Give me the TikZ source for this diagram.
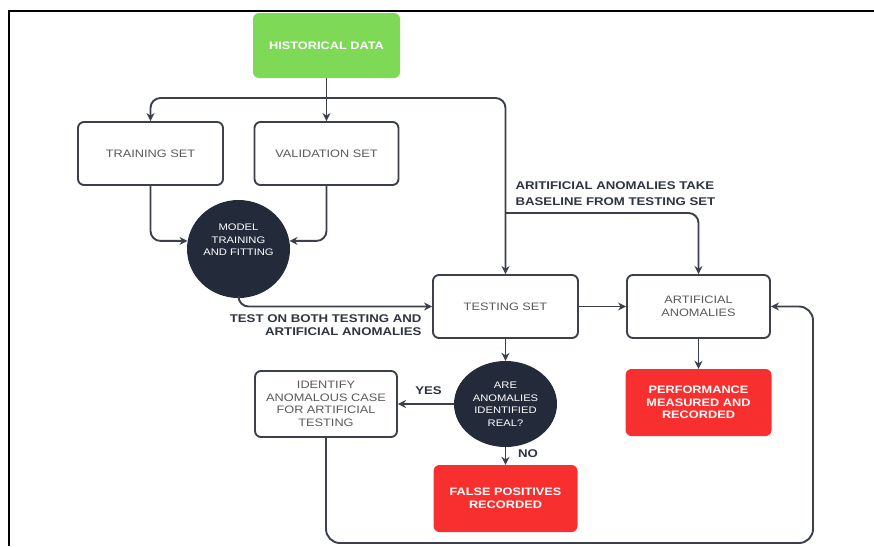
\documentclass[tikz,border=0pt]{standalone}
\usepackage{fontspec}
\setmainfont{Liberation Sans}[FakeStretch=1.18]
\usetikzlibrary{shapes.geometric,arrows.meta}
\definecolor{hgreen}{HTML}{7ED957}
\definecolor{hred}{HTML}{F7302F}
\definecolor{navy}{HTML}{232B3B}
\definecolor{lncol}{HTML}{3B404C}
\definecolor{boxtxt}{HTML}{5A5A5A}
\definecolor{lbltxt}{HTML}{2E3440}
\tikzset{
  box/.style={draw=lncol, line width=1.9pt, rounded corners=6pt, fill=white, text=boxtxt,
    align=center, font=\fontsize{10.8}{12.5}\selectfont, inner sep=2pt},
  greenbox/.style={fill=hgreen, rounded corners=6pt, text=white, align=center,
    font=\fontsize{10.8}{12.5}\selectfont\bfseries},
  redbox/.style={fill=hred, rounded corners=6pt, text=white, align=center,
    font=\fontsize{10.8}{12.5}\selectfont\bfseries},
  circ/.style={ellipse, fill=navy, text=white, align=center, inner sep=0pt,
    font=\fontsize{9.5}{12.5}\selectfont},
  arr/.style={draw=lncol, line width=1.9pt, -{Stealth[length=8pt,width=8pt]}},
  lbl/.style={text=lbltxt, font=\fontsize{11.2}{15.5}\selectfont\bfseries},
}
\begin{document}
\begin{tikzpicture}[x=1pt,y=-1pt]
\useasboundingbox (0,0) rectangle (874,546);
\draw[line width=2pt, black] (9,546) -- (9,11) -- (874,11);

\node[greenbox, minimum width=147pt, minimum height=65pt] (hist) at (326.5,45.5) {HISTORICAL DATA};
\node[box, minimum width=145pt, minimum height=63pt] (train) at (150.5,153.5) {TRAINING SET};
\node[box, minimum width=144pt, minimum height=63pt] (valid) at (326.5,153.5) {VALIDATION SET};
\node[circ, minimum width=103pt, minimum height=98pt] (model) at (238.5,249) {MODEL\\TRAINING\\AND FITTING\\[6pt]};
\node[box, minimum width=145pt, minimum height=63pt] (test) at (505.5,306.5) {TESTING SET};
\node[box, minimum width=143pt, minimum height=63pt] (art) at (698.5,306.5) {ARTIFICIAL\\ANOMALIES};
\node[redbox, minimum width=146pt, minimum height=67pt] (perf) at (698.5,402.5) {PERFORMANCE\\MEASURED AND\\RECORDED};
\node[circ, minimum width=103pt, minimum height=86pt] (dec) at (505.5,404) {ARE\\ANOMALIES\\IDENTIFIED\\REAL?};
\node[box, minimum width=142pt, minimum height=66pt] (ident) at (326,404) {IDENTIFY\\ANOMALOUS CASE\\FOR ARTIFICIAL\\TESTING};
\node[redbox, minimum width=144pt, minimum height=67pt] (fp) at (505.5,498.5) {FALSE POSITIVES\\RECORDED};

\coordinate (j) at (326.5,98);
\coordinate (b) at (505.5,213);
\coordinate (loopc) at (813,543);

\draw[arr] (hist.south) -- (valid.north);
\draw[arr, rounded corners=10pt] (j) -| (train.north);
\draw[arr, rounded corners=10pt] (j) -| (test.north);
\draw[arr, rounded corners=10pt] (b) -| (art.north);
\draw[arr, rounded corners=10pt] (train.south) |- (model.171);
\draw[arr, rounded corners=10pt] (valid.south) |- (model.9);
\draw[arr, rounded corners=10pt] (model.south) |- (test.west);
\draw[arr] (test.east) -- (art.west);
\draw[arr] (art.south) -- (perf.north);
\draw[arr] (test.south) -- (dec.north);
\draw[arr] (dec.west) -- (ident.east);
\draw[arr] (dec.south) -- (fp.north);
\draw[arr, rounded corners=14pt] (ident.south) |- (loopc) |- (art.east);

\node[lbl, anchor=west, align=left] (lab1) at (512,193.5) {ARITIFICIAL ANOMALIES TAKE\\BASELINE FROM TESTING SET};
\node[lbl, anchor=east, align=right, font=\fontsize{11.2}{13.5}\selectfont\bfseries] (lab2) at (425,325) {TEST ON BOTH TESTING AND\\ARTIFICIAL ANOMALIES};
\node[lbl] (yes) at (428.5,391) {YES};
\node[lbl] (no) at (528,454) {NO};
\end{tikzpicture}
\end{document}
